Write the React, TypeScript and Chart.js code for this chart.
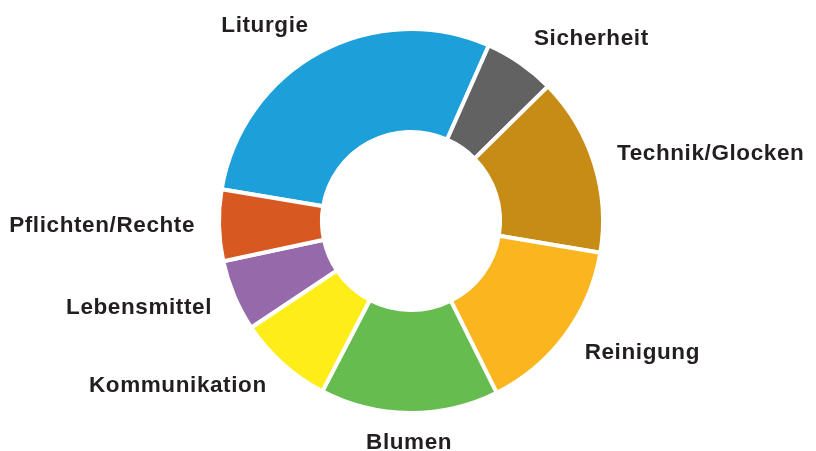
import React, { useEffect, useRef } from "react";
import { Chart, registerables } from "chart.js";

Chart.register(...registerables);

const categories = [
  "Liturgie",
  "Sicherheit",
  "Technik/Glocken",
  "Reinigung",
  "Blumen",
  "Kommunikation",
  "Lebensmittel",
  "Pflichten/Rechte",
];
const values = [29, 6, 15, 15, 15, 8, 6, 6];
const colors = [
  "#1D9FD9",
  "#626262",
  "#C68C16",
  "#FBB51F",
  "#67BC50",
  "#FFED19",
  "#9569AA",
  "#D75820",
];

const outsideLabels = {
  id: "outsideLabels",
  afterDraw(chart: any) {
    const meta = chart.getDatasetMeta(0);
    const ctx = chart.ctx;
    ctx.save();
    ctx.font = "bold 22.5px 'Liberation Sans', Arial, sans-serif";
    try {
      (ctx as any).letterSpacing = "0.6px";
    } catch (e) {}
    ctx.fillStyle = "#231F20";
    ctx.textBaseline = "middle";
    meta.data.forEach((arc: any, i: number) => {
      const { x, y, startAngle, endAngle, outerRadius } = arc.getProps(
        ["x", "y", "startAngle", "endAngle", "outerRadius"],
        true
      );
      const mid = (startAngle + endAngle) / 2;
      const rx = outerRadius + 24;
      const ry = outerRadius + 30;
      const lx = x + Math.cos(mid) * rx;
      const ly = y + Math.sin(mid) * ry;
      const c = Math.cos(mid);
      ctx.textAlign = c > 0.15 ? "left" : c < -0.15 ? "right" : "center";
      ctx.fillText(chart.data.labels[i], lx, ly);
    });
    ctx.restore();
  },
};

export default function App() {
  const ref = useRef<HTMLCanvasElement | null>(null);
  useEffect(() => {
    if (!ref.current) return;
    const chart = new Chart(ref.current, {
      type: "doughnut",
      data: {
        labels: categories,
        datasets: [
          {
            data: values,
            backgroundColor: colors,
            borderColor: "#FFFFFF",
            borderWidth: 4,
          },
        ],
      },
      options: {
        animation: false,
        responsive: false,
        maintainAspectRatio: false,
        rotation: -80.5,
        cutout: "46.4%",
        layout: { padding: { left: 217, right: 211, top: 27, bottom: 36 } },
        plugins: {
          legend: { display: false },
          tooltip: { enabled: false },
        },
      },
      plugins: [outsideLabels],
    });
    return () => chart.destroy();
  }, []);
  return (
    <div style={{ position: "absolute", left: 0, top: 0, width: 816, height: 451, background: "#fff" }}>
      <canvas ref={ref} width={816} height={451} style={{ width: 816, height: 451 }} />
    </div>
  );
}
